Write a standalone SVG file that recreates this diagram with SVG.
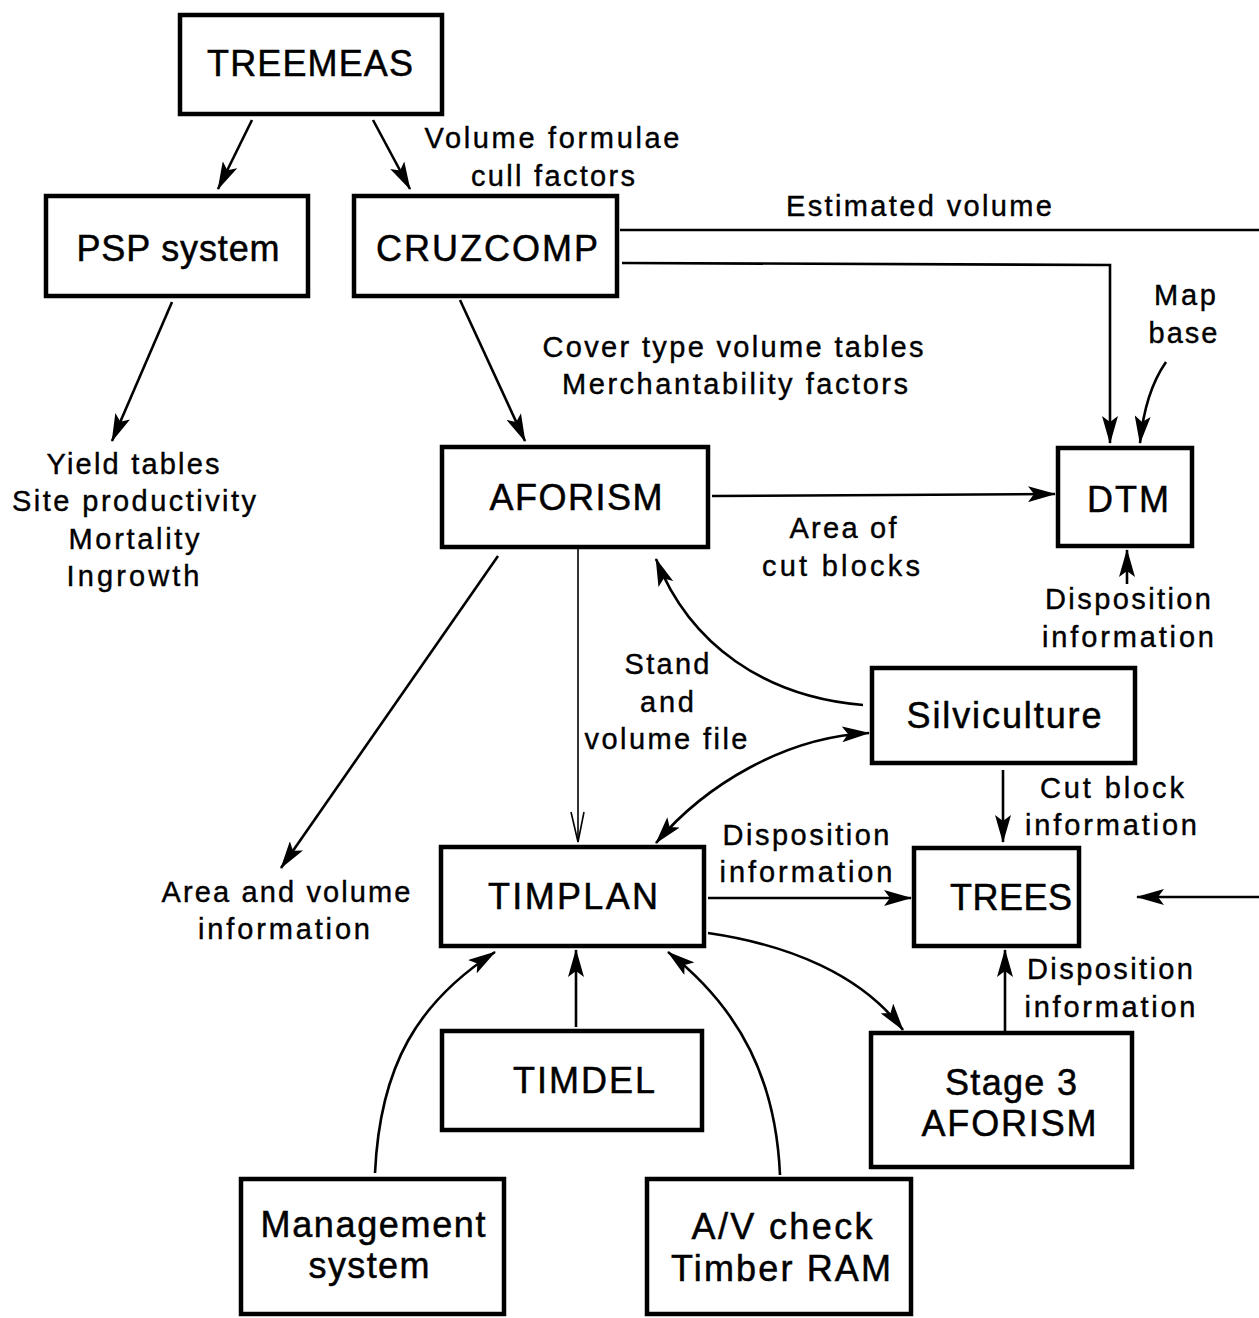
<svg xmlns="http://www.w3.org/2000/svg" width="1259" height="1318" viewBox="0 0 1259 1318">
  <style>
    .box { fill: #fff; stroke: #000; stroke-width: 4.5; }
    .node { font-family: "Liberation Sans", Arial, sans-serif; font-size: 36px; fill: #000; stroke: #000; stroke-width: 0.5; text-anchor: middle; }
    .lbl { font-family: "Liberation Sans", Arial, sans-serif; font-size: 29px; fill: #000; stroke: #000; stroke-width: 0.4; text-anchor: middle; }
    .wire { fill: none; stroke: #000; stroke-width: 2.6; }
    .thin { fill: none; stroke: #000; stroke-width: 1.6; }
  </style>
  <defs>
    <marker id="arrow" viewBox="0 0 28 16" refX="27" refY="8" markerWidth="28" markerHeight="16" markerUnits="userSpaceOnUse" orient="auto">
      <path d="M0,0 L28,8 L0,16 L6,8 Z" fill="#000"/>
    </marker>
    <marker id="arrowStart" viewBox="0 0 28 16" refX="1" refY="8" markerWidth="28" markerHeight="16" markerUnits="userSpaceOnUse" orient="auto">
      <path d="M28,0 L0,8 L28,16 L22,8 Z" fill="#000"/>
    </marker>
  </defs>
  <rect width="1259" height="1318" fill="#fff"/>

  <!-- connectors -->
  <g id="connectors">
    <line class="wire" x1="252" y1="120" x2="218" y2="189" marker-end="url(#arrow)"/>
    <line class="wire" x1="373" y1="120" x2="410" y2="189" marker-end="url(#arrow)"/>
    <line class="wire" x1="172" y1="302" x2="112" y2="441" marker-end="url(#arrow)"/>
    <line class="wire" x1="460" y1="300" x2="525" y2="441" marker-end="url(#arrow)"/>
    <!-- estimated volume: runs off the right edge and back into TREES -->
    <path class="wire" d="M620,230 L1264,230 L1264,897 L1137,897" marker-end="url(#arrow)"/>
    <path class="wire" d="M622,263 L1110,265 L1110,443" marker-end="url(#arrow)"/>
    <path class="wire" d="M1166,362 Q1145,392 1140,443" marker-end="url(#arrow)"/>
    <line class="wire" x1="712" y1="496" x2="1055" y2="494" marker-end="url(#arrow)"/>
    <line class="wire" x1="1127" y1="584" x2="1127" y2="550" marker-end="url(#arrow)"/>
    <line class="wire" x1="498" y1="556" x2="281" y2="868" marker-end="url(#arrow)"/>
    <!-- stand and volume file -->
    <line class="thin" x1="578" y1="548" x2="578" y2="842"/>
    <path class="thin" d="M571,812 L578,842 L584,812"/>
    <path class="wire" d="M863,705 C765,697 690,645 656,559" marker-end="url(#arrow)"/>
    <path class="wire" d="M869,733 C785,737 705,785 656,843" marker-start="url(#arrowStart)" marker-end="url(#arrow)"/>
    <line class="wire" x1="1003" y1="770" x2="1003" y2="842" marker-end="url(#arrow)"/>
    <line class="wire" x1="708" y1="898" x2="911" y2="898" marker-end="url(#arrow)"/>
    <path class="wire" d="M708,933 C790,945 862,975 903,1030" marker-end="url(#arrow)"/>
    <line class="wire" x1="1005" y1="1032" x2="1005" y2="950" marker-end="url(#arrow)"/>
    <line class="wire" x1="576" y1="1027" x2="576" y2="950" marker-end="url(#arrow)"/>
    <path class="wire" d="M375,1173 C380,1065 418,1002 495,952" marker-end="url(#arrow)"/>
    <path class="wire" d="M780,1175 C776,1082 742,1010 668,952" marker-end="url(#arrow)"/>
  </g>

  <!-- connector labels -->
  <g id="labels">
    <text class="lbl" x="552" y="148" textLength="255" lengthAdjust="spacing">Volume formulae</text>
    <text class="lbl" x="553" y="186" textLength="164" lengthAdjust="spacing">cull factors</text>
    <text class="lbl" x="919" y="216" textLength="266" lengthAdjust="spacing">Estimated volume</text>
    <text class="lbl" x="1185" y="305" textLength="62" lengthAdjust="spacing">Map</text>
    <text class="lbl" x="1183" y="343" textLength="69" lengthAdjust="spacing">base</text>
    <text class="lbl" x="733" y="357" textLength="381" lengthAdjust="spacing">Cover type volume tables</text>
    <text class="lbl" x="735" y="394" textLength="346" lengthAdjust="spacing">Merchantability factors</text>
    <text class="lbl" x="133" y="474" textLength="173" lengthAdjust="spacing">Yield tables</text>
    <text class="lbl" x="134" y="511" textLength="244" lengthAdjust="spacing">Site productivity</text>
    <text class="lbl" x="134" y="549" textLength="131" lengthAdjust="spacing">Mortality</text>
    <text class="lbl" x="133" y="586" textLength="133" lengthAdjust="spacing">Ingrowth</text>
    <text class="lbl" x="843" y="538" textLength="107" lengthAdjust="spacing">Area of</text>
    <text class="lbl" x="841" y="576" textLength="158" lengthAdjust="spacing">cut  blocks</text>
    <text class="lbl" x="1128" y="609" textLength="166" lengthAdjust="spacing">Disposition</text>
    <text class="lbl" x="1128" y="647" textLength="172" lengthAdjust="spacing">information</text>
    <text class="lbl" x="667" y="674" textLength="85" lengthAdjust="spacing">Stand</text>
    <text class="lbl" x="667" y="712" textLength="54" lengthAdjust="spacing">and</text>
    <text class="lbl" x="666" y="749" textLength="163" lengthAdjust="spacing">volume file</text>
    <text class="lbl" x="1112" y="798" textLength="144" lengthAdjust="spacing">Cut block</text>
    <text class="lbl" x="1111" y="835" textLength="172" lengthAdjust="spacing">information</text>
    <text class="lbl" x="806" y="845" textLength="167" lengthAdjust="spacing">Disposition</text>
    <text class="lbl" x="806" y="882" textLength="173" lengthAdjust="spacing">information</text>
    <text class="lbl" x="286" y="902" textLength="249" lengthAdjust="spacing">Area and volume</text>
    <text class="lbl" x="284" y="939" textLength="172" lengthAdjust="spacing">information</text>
    <text class="lbl" x="1110" y="979" textLength="166" lengthAdjust="spacing">Disposition</text>
    <text class="lbl" x="1110" y="1017" textLength="171" lengthAdjust="spacing">information</text>
  </g>

  <!-- nodes -->
  <g id="treemeas">
    <rect class="box" x="180" y="15" width="262" height="99"/>
    <text class="node" x="310" y="76" textLength="206" lengthAdjust="spacing">TREEMEAS</text>
  </g>
  <g id="psp-system">
    <rect class="box" x="46" y="196" width="262" height="100"/>
    <text class="node" x="178" y="261" textLength="203" lengthAdjust="spacing">PSP system</text>
  </g>
  <g id="cruzcomp">
    <rect class="box" x="354" y="196" width="263" height="100"/>
    <text class="node" x="487" y="261" textLength="222" lengthAdjust="spacing">CRUZCOMP</text>
  </g>
  <g id="aforism">
    <rect class="box" x="442" y="447" width="266" height="100"/>
    <text class="node" x="576" y="510" textLength="173" lengthAdjust="spacing">AFORISM</text>
  </g>
  <g id="dtm">
    <rect class="box" x="1058" y="448" width="134" height="98"/>
    <text class="node" x="1128" y="512" textLength="82" lengthAdjust="spacing">DTM</text>
  </g>
  <g id="silviculture">
    <rect class="box" x="872" y="668" width="263" height="95"/>
    <text class="node" x="1004" y="728" textLength="195" lengthAdjust="spacing">Silviculture</text>
  </g>
  <g id="timplan">
    <rect class="box" x="441" y="847" width="263" height="99"/>
    <text class="node" x="573" y="909" textLength="170" lengthAdjust="spacing">TIMPLAN</text>
  </g>
  <g id="trees">
    <rect class="box" x="914" y="848" width="165" height="98"/>
    <text class="node" x="1011" y="910" textLength="122" lengthAdjust="spacing">TREES</text>
  </g>
  <g id="timdel">
    <rect class="box" x="442" y="1031" width="260" height="99"/>
    <text class="node" x="584" y="1093" textLength="142" lengthAdjust="spacing">TIMDEL</text>
  </g>
  <g id="stage3-aforism">
    <rect class="box" x="871" y="1033" width="261" height="134"/>
    <text class="node" x="1011" y="1095" textLength="132" lengthAdjust="spacing">Stage 3</text>
    <text class="node" x="1009" y="1136" textLength="175" lengthAdjust="spacing">AFORISM</text>
  </g>
  <g id="management-system">
    <rect class="box" x="241" y="1179" width="263" height="135"/>
    <text class="node" x="373" y="1237" textLength="225" lengthAdjust="spacing">Management</text>
    <text class="node" x="369" y="1278" textLength="121" lengthAdjust="spacing">system</text>
  </g>
  <g id="av-check">
    <rect class="box" x="647" y="1179" width="264" height="135"/>
    <text class="node" x="782" y="1239" textLength="181" lengthAdjust="spacing">A/V check</text>
    <text class="node" x="781" y="1281" textLength="220" lengthAdjust="spacing">Timber RAM</text>
  </g>
</svg>
